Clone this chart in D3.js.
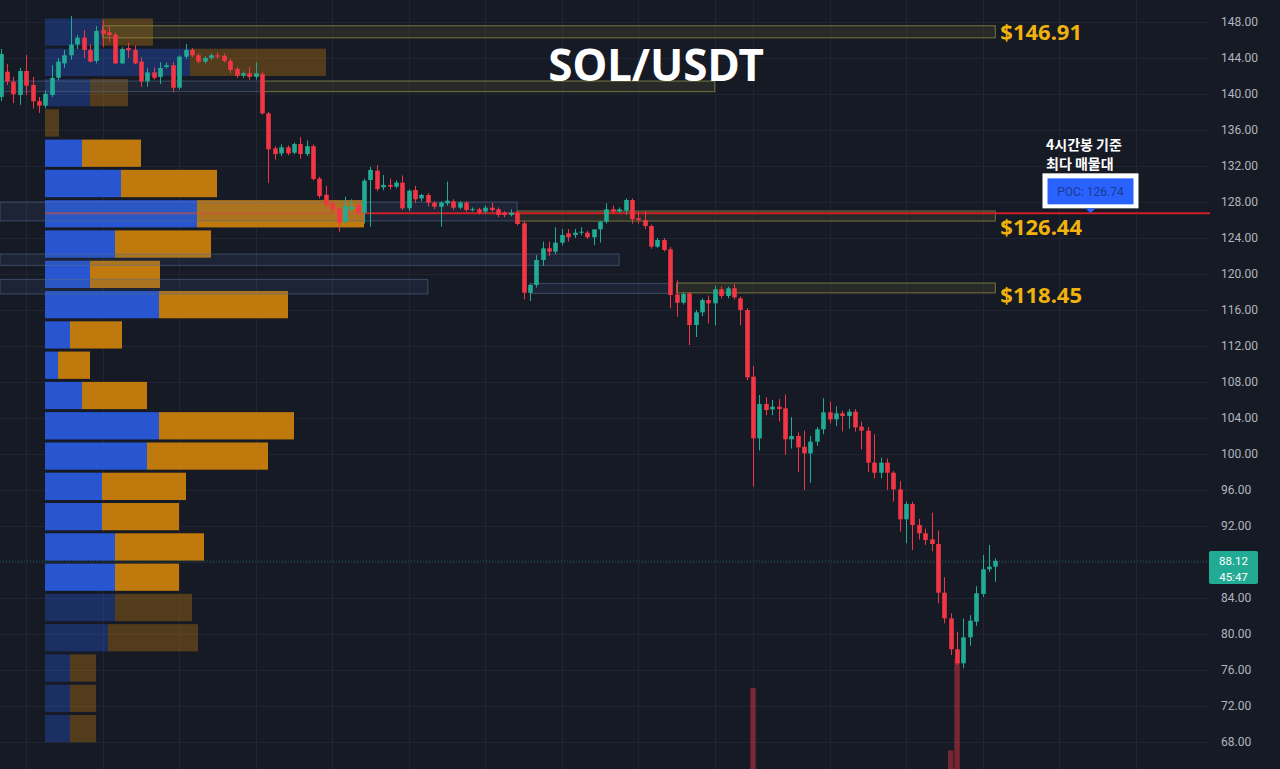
<!DOCTYPE html>
<html>
<head>
<meta charset="utf-8">
<script src="https://cdn.jsdelivr.net/npm/d3@7"></script>
<style>
  html, body { margin: 0; padding: 0; background: #161a25; overflow: hidden; }
  svg { display: block; }
</style>
</head>
<body>
<svg id="chart" width="1280" height="769"></svg>
<script>
// ---- SOL/USDT 4h candles (oldest -> newest) ----
const candleOpen = [
  139.67,142.48,141.37,139.89,142.56,141.0,139.2,138.7,139.9,141.8,
  143.4,144.3,145.5,146.26,144.9,143.67,147.1,146.85,146.6,143.4,
  145.1,144.9,143.6,141.4,142.4,141.9,143.0,143.2,140.7,144.15,
  144.9,144.3,143.6,144.0,144.3,144.25,143.67,142.78,142.03,142.3,
  141.9,142.2,137.85,133.96,133.4,134.08,133.48,134.44,133.33,134.2,
  130.6,128.8,127.85,127.3,125.8,127.2,127.67,126.81,130.44,131.48,
  129.63,129.9,129.7,130.15,127.3,129.33,128.4,128.78,127.93,127.48,
  127.85,128.07,127.37,127.93,127.1,127.19,126.93,127.37,127.19,126.81,
  126.56,126.81,125.63,117.92,118.78,121.56,122.85,122.48,123.48,124.52,
  124.33,124.59,124.59,124.08,124.96,125.81,127.19,126.96,127.04,128.22,
  126.2,126.0,125.33,123.04,123.78,122.74,117.74,116.81,117.85,114.33,
  115.74,117.11,116.74,118.3,117.56,118.41,117.3,116.0,108.59,101.74,
  105.56,104.96,105.26,105.07,101.63,102.0,100.81,100.07,101.37,102.74,
  104.63,103.85,104.52,104.22,104.7,103.04,102.59,99.04,97.92,99.04,
  97.92,96.07,92.74,94.44,92.11,91.19,90.52,90.0,84.59,81.74,
  78.3,76.74,79.63,81.37,84.44,87.19,87.48
];
const candleHigh = [
  145.0,143.33,141.9,142.9,144.33,141.9,139.67,140.4,143.2,144.0,
  144.9,148.67,146.55,147.1,145.55,147.55,148.2,147.55,146.8,145.2,
  145.7,145.4,144.1,142.9,142.95,143.55,143.5,143.55,144.3,145.55,
  145.1,144.5,144.2,144.5,144.6,144.5,143.9,143.0,142.5,143.0,
  143.5,142.5,138.0,134.2,134.4,134.3,134.6,135.2,134.85,134.4,
  130.8,129.8,128.1,127.5,128.6,128.3,127.9,130.6,131.9,132.1,
  131.0,130.6,130.4,130.95,129.4,129.8,128.9,129.0,128.1,128.1,
  130.26,128.3,128.1,128.1,127.4,127.35,127.6,127.9,127.4,127.0,
  127.19,127.0,125.9,118.9,122.1,123.6,123.6,125.2,125.0,125.0,
  125.0,125.2,124.8,125.0,125.9,127.85,127.6,127.4,128.4,128.4,
  126.9,127.0,125.5,124.0,124.0,123.0,119.3,118.0,118.0,116.0,
  117.3,117.6,118.7,118.6,118.6,118.9,117.5,116.2,109.8,106.56,
  106.3,106.0,106.1,106.6,104.1,102.4,102.6,102.0,103.0,106.2,
  105.8,105.3,104.8,105.0,105.0,103.6,103.0,102.2,99.6,99.5,
  98.1,97.0,94.7,94.7,92.8,91.7,93.48,91.5,86.3,82.3,
  80.26,81.7,82.1,85.3,88.78,89.89,88.4
];
const candleLow = [
  139.2,141.0,139.0,138.8,139.9,138.4,137.9,138.4,139.67,141.5,
  142.9,143.8,145.0,144.0,143.5,143.4,145.2,145.8,143.3,143.3,
  144.0,143.3,140.8,140.8,141.6,141.1,142.8,140.2,140.5,143.9,
  144.1,143.4,143.4,143.8,143.9,143.5,142.3,141.8,141.8,141.6,
  141.6,137.7,130.1,132.7,133.1,133.2,133.3,132.8,133.1,130.4,
  128.4,127.4,126.9,124.7,125.6,126.9,126.5,125.6,125.26,129.2,
  129.3,129.4,129.5,127.1,127.0,127.9,128.1,127.5,127.2,125.26,
  127.6,127.1,127.2,126.9,126.95,126.6,126.7,126.9,126.3,126.3,
  126.4,125.4,117.19,117.0,118.5,120.9,122.0,122.2,123.2,123.6,
  124.0,124.3,123.9,123.2,123.5,125.6,126.7,126.8,126.6,125.6,
  125.6,125.0,122.8,122.9,122.5,116.2,115.26,116.6,112.1,113.0,
  115.3,114.5,114.3,117.3,117.3,117.2,114.3,108.2,96.37,100.4,
  104.3,104.3,103.6,99.9,100.6,98.0,96.0,96.8,100.9,102.2,
  103.4,103.1,102.5,102.8,102.5,100.5,98.0,97.3,97.3,96.0,
  94.7,91.37,90.07,89.33,90.5,89.9,89.2,83.41,81.2,77.67,
  76.56,76.2,78.7,80.9,84.1,86.9,85.81
];
const candleClose = [
  144.44,141.37,139.97,142.56,140.92,139.2,138.7,140.03,141.8,143.6,
  144.3,145.5,146.26,144.9,143.6,147.0,146.7,146.55,143.4,145.0,
  144.85,143.4,141.4,142.4,141.8,142.9,143.2,140.7,144.15,144.9,
  144.3,143.6,144.0,144.3,144.15,143.67,142.67,142.03,142.3,141.9,
  142.3,137.85,133.85,133.33,134.08,133.4,134.44,133.33,134.2,130.56,
  128.67,127.67,127.1,125.7,127.56,127.5,126.81,130.37,131.56,129.44,
  129.9,129.7,130.15,127.3,129.26,128.3,128.78,127.93,127.48,127.93,
  128.15,127.37,127.93,127.1,127.2,126.81,127.37,127.1,126.56,126.56,
  126.81,125.56,117.92,118.78,121.56,122.85,122.48,123.48,124.33,124.08,
  124.59,124.7,124.08,124.96,125.81,127.19,126.93,127.19,128.22,126.07,
  126.0,125.33,123.04,123.78,122.67,117.67,116.81,117.78,114.33,115.74,
  117.11,116.74,118.3,117.56,118.41,117.41,116.0,108.52,101.74,105.56,
  104.89,105.26,105.0,101.63,102.0,100.74,100.07,101.37,102.74,104.63,
  103.85,104.52,104.22,104.7,102.96,102.59,99.04,97.92,99.04,97.92,
  96.07,92.74,94.44,92.11,91.19,90.44,90.0,84.59,81.74,78.3,
  76.74,79.63,81.48,84.52,87.19,87.48,88.12
];

// Volume columns tall enough to reach into the price pane (candle index, volume in K)
const volumeSpikeIndex = [118, 149, 150];
const volumeSpikeValue = [70, 31, 88];

// Price axis ticks
const priceTicks = [68,72,76,80,84,88,92,96,100,104,108,112,116,120,124,128,132,136,140,144,148];
// Time grid (candle indices of vertical grid lines)
const timeGridIndex = [4,16,28,40,52,64,76,88,100,112,118,130,142,154,166,178];

// Visible-range volume profile: bin tops (price), last value = bottom of lowest bin
const profileEdges = [148.56,145.20,141.83,138.47,135.10,131.74,128.37,125.01,121.64,118.28,
  114.91,111.55,108.18,104.82,101.45,98.09,94.72,91.36,87.99,84.63,81.26,77.90,74.53,71.17,67.80];
const profileUpVol   = [570,1450,450,0,370,760,1520,700,450,1140,250,130,370,1140,1020,570,570,700,700,700,630,250,250,250];
const profileDownVol = [510,1360,380,140,590,960,1670,960,700,1290,520,320,650,1350,1210,840,770,890,640,770,900,260,260,260];
const valueAreaHigh = 135.10;
const valueAreaLow = 84.63;
const pocPrice = 126.74;

// Supply / demand zones: [start index, end index, top price, bottom price]
const blueZoneStart = [-1, -1, -1, -1, 83];
const blueZoneEnd   = [41, 81, 97, 67, 105];
const blueZoneTop   = [141.44, 128.0, 122.22, 119.41, 118.96];
const blueZoneBot   = [140.26, 125.9, 120.96, 117.78, 117.85];

const keyZoneStart = [16, 41, 81, 106];
const keyZoneEnd   = [156, 112, 156, 156];
const keyZoneMid   = [146.91, 140.85, 126.44, 118.45];
const keyZoneHalf  = [0.67, 0.59, 0.56, 0.55];
const keyZoneLabel = ["$146.91", null, "$126.44", "$118.45"];

const lastPrice = 88.12;
const barCountdown = "45:47";

// ---- drawing ----
const W = 1280, H = 769, plotRight = 1210;
const svg = d3.select("#chart");
const x = d3.scaleLinear().domain([0, 156]).range([0.7, 995.3]);
const y = d3.scaleLinear().domain([68, 148]).range([742, 22]);
const xv = d3.scaleLinear().domain([0, 3190]).range([45, 364]);
const vy = d3.scaleLinear().domain([0, 100]).range([800, 640]);

const UP = "#22ab94", DOWN = "#f23645";
const PBLUE = "#2756d0", PORANGE = "#bf790d";

svg.append("rect").attr("width", W).attr("height", H).attr("fill", "#161a25");

// grid
const grid = svg.append("g");
grid.selectAll("line.h").data(priceTicks).join("line")
  .attr("x1", 0).attr("x2", plotRight)
  .attr("y1", d => Math.round(y(d)) + 0.5).attr("y2", d => Math.round(y(d)) + 0.5)
  .attr("stroke", "#212531").attr("stroke-width", 1);
grid.selectAll("line.v").data(timeGridIndex).join("line")
  .attr("x1", d => Math.round(x(d)) + 0.5).attr("x2", d => Math.round(x(d)) + 0.5)
  .attr("y1", 0).attr("y2", H)
  .attr("stroke", "#212531").attr("stroke-width", 1);

// volume profile
const bins = profileUpVol.map((u, i) => ({
  top: profileEdges[i], bot: profileEdges[i + 1], up: u, down: profileDownVol[i]
}));
const inVA = b => b.top <= valueAreaHigh + 0.01 && b.bot >= valueAreaLow - 0.01;
const prof = svg.append("g");
bins.forEach(b => {
  const y0 = y(b.top) + 1.5, h = y(b.bot) - y(b.top) - 3;
  const op = inVA(b) ? 1 : 0.36;
  if (b.up > 0) prof.append("rect").attr("x", xv(0)).attr("y", y0)
    .attr("width", xv(b.up) - xv(0)).attr("height", h).attr("fill", PBLUE).attr("opacity", op);
  prof.append("rect").attr("x", xv(b.up)).attr("y", y0)
    .attr("width", xv(b.up + b.down) - xv(b.up)).attr("height", h).attr("fill", PORANGE).attr("opacity", op);
});
const pocBin = bins.find(b => pocPrice <= b.top && pocPrice >= b.bot);
prof.append("line").attr("x1", xv(0)).attr("x2", xv(pocBin.up + pocBin.down))
  .attr("y1", y(pocPrice)).attr("y2", y(pocPrice))
  .attr("stroke", "#f2502a").attr("stroke-width", 2).attr("opacity", 0.6);

// blue zones
const zones = svg.append("g");
blueZoneStart.forEach((s, i) => {
  const x0 = Math.max(0, x(s)), x1 = x(blueZoneEnd[i]);
  zones.append("rect").attr("x", x0).attr("y", y(blueZoneTop[i]))
    .attr("width", x1 - x0).attr("height", y(blueZoneBot[i]) - y(blueZoneTop[i]))
    .attr("fill", "rgba(70,95,135,0.16)").attr("stroke", "rgba(90,112,145,0.55)").attr("stroke-width", 1);
});
// key zones
keyZoneStart.forEach((s, i) => {
  const x0 = x(s), x1 = x(keyZoneEnd[i]);
  const t = keyZoneMid[i] + keyZoneHalf[i], b = keyZoneMid[i] - keyZoneHalf[i];
  zones.append("rect").attr("x", x0).attr("y", y(t))
    .attr("width", x1 - x0).attr("height", y(b) - y(t))
    .attr("fill", "rgba(110,110,50,0.2)").attr("stroke", "rgba(150,145,70,0.75)").attr("stroke-width", 1);
});

// POC line across the chart
svg.append("line").attr("x1", xv(pocBin.up + pocBin.down)).attr("x2", plotRight)
  .attr("y1", y(pocPrice)).attr("y2", y(pocPrice))
  .attr("stroke", "#cf1f28").attr("stroke-width", 2);

// volume spikes
svg.append("g").selectAll("rect").data(volumeSpikeIndex).join("rect")
  .attr("x", d => x(d) - 2.7).attr("width", 5.4)
  .attr("y", (d, i) => vy(volumeSpikeValue[i]))
  .attr("height", (d, i) => H - vy(volumeSpikeValue[i]) + 40)
  .attr("fill", "rgba(242,54,69,0.45)");

// last price line
svg.append("line").attr("x1", 0).attr("x2", plotRight)
  .attr("y1", y(lastPrice)).attr("y2", y(lastPrice))
  .attr("stroke", UP).attr("stroke-opacity", 0.45).attr("stroke-dasharray", "1,2");

// candles
const candles = candleOpen.map((o, i) => ({ i, o, h: candleHigh[i], l: candleLow[i], c: candleClose[i] }));
const cg = svg.append("g");
cg.selectAll("line").data(candles).join("line")
  .attr("x1", d => Math.round(x(d.i)) + 0.5).attr("x2", d => Math.round(x(d.i)) + 0.5)
  .attr("y1", d => y(d.h)).attr("y2", d => y(d.l))
  .attr("stroke", d => d.c >= d.o ? UP : DOWN).attr("stroke-width", 1);
cg.selectAll("rect").data(candles).join("rect")
  .attr("x", d => Math.round(x(d.i)) + 0.5 - 2.3).attr("width", 4.6)
  .attr("y", d => y(Math.max(d.o, d.c)))
  .attr("height", d => Math.max(1, Math.abs(y(d.o) - y(d.c))))
  .attr("fill", d => d.c >= d.o ? UP : DOWN);

// zone labels
const labelDy = [0, 0, 11, 7];
keyZoneLabel.forEach((t, i) => {
  if (!t) return;
  svg.append("text").attr("x", x(keyZoneEnd[i]) + 5).attr("y", y(keyZoneMid[i]) + labelDy[i])
    .attr("dy", "0.36em").attr("fill", "#f0b20c")
    .attr("font-family", "'Noto Sans', 'DejaVu Sans', sans-serif").attr("font-weight", 700)
    .attr("font-size", 22).text(t);
});

// price axis (labels hidden where the last-price tag sits)
const ly = y(lastPrice);
const axisTicks = priceTicks.filter(t => Math.abs(y(t) - (ly + 6)) > 20);
const axis = svg.append("g").attr("transform", `translate(1221,0)`)
  .call(d3.axisRight(y).tickValues(axisTicks).tickFormat(d3.format(".2f")).tickSize(0).tickPadding(0));
axis.select(".domain").remove();
axis.selectAll("text").attr("fill", "#b2b5be").attr("font-size", 12)
  .attr("font-family", "Roboto, 'DejaVu Sans', sans-serif");

// last price tag
svg.append("rect").attr("x", 1209).attr("y", ly - 10).attr("width", 49).attr("height", 33)
  .attr("rx", 2).attr("fill", UP);
svg.append("text").attr("x", 1233.5).attr("y", ly + 4.5).attr("text-anchor", "middle")
  .attr("fill", "#ffffff").attr("font-size", 11.5).attr("font-family", "Roboto, sans-serif").text(lastPrice.toFixed(2));
svg.append("text").attr("x", 1233.5).attr("y", ly + 20).attr("text-anchor", "middle")
  .attr("fill", "#ffffff").attr("font-size", 11.5).attr("font-family", "Roboto, sans-serif").text(barCountdown);

// POC callout
const py = y(pocPrice);
const cx = 1090.5;
svg.append("rect").attr("x", cx - 48).attr("y", py - 40).attr("width", 96).attr("height", 35).attr("fill", "#ffffff");
svg.append("rect").attr("x", cx - 43).attr("y", py - 35).attr("width", 86).attr("height", 26).attr("fill", "#2962ff");
svg.append("path").attr("d", `M${cx - 5},${py - 5} L${cx + 5},${py - 5} L${cx},${py}Z`).attr("fill", "#2962ff");
svg.append("text").attr("x", cx).attr("y", py - 22).attr("dy", "0.36em").attr("text-anchor", "middle")
  .attr("fill", "#1e3b8f").attr("font-size", 12).attr("font-family", "Roboto, sans-serif")
  .text("POC: " + pocPrice.toFixed(2));
svg.append("text").attr("x", 1046).attr("y", py - 63).attr("fill", "#ffffff")
  .attr("font-size", 14).attr("font-weight", 700)
  .attr("font-family", "'Noto Sans CJK KR', sans-serif").text("4시간봉 기준");
svg.append("text").attr("x", 1046).attr("y", py - 44).attr("fill", "#ffffff")
  .attr("font-size", 14).attr("font-weight", 700)
  .attr("font-family", "'Noto Sans CJK KR', sans-serif").text("최다 매물대");

// title
svg.append("text").attr("x", 656).attr("y", 81).attr("text-anchor", "middle")
  .attr("fill", "#ffffff").attr("font-size", 44).attr("font-weight", 700)
  .attr("font-family", "'Noto Sans', 'Open Sans', sans-serif").text("SOL/USDT");
</script>
</body>
</html>
